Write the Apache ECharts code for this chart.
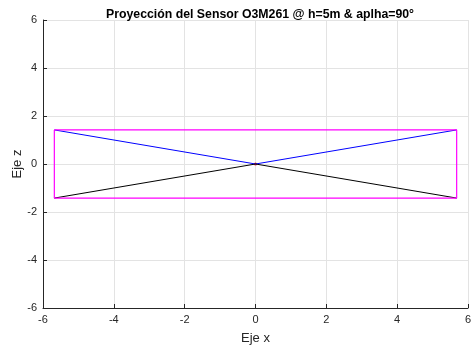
<!DOCTYPE html>
<html>
<head>
<meta charset="utf-8">
<script src="https://cdn.jsdelivr.net/npm/echarts@6/dist/echarts.min.js"></script>
<style>
  html, body { margin: 0; padding: 0; background: #fff; }
  #chart { width: 476px; height: 346px; }
</style>
</head>
<body>
<div id="chart"></div>
<script>
// Projection footprint of the sensor
const rectX  = [-5.68, 5.68, 5.68, -5.68, -5.68]
const rectZ  = [1.42, 1.42, -1.42, -1.42, 1.42]
const upperX = [-5.68, 0, 5.68]
const upperZ = [1.42, 0, 1.42]
const lowerX = [-5.68, 0, 5.68]
const lowerZ = [-1.42, 0, -1.42]
const originX = [0]
const originZ = [0]

const pairs = (xs, zs) => xs.map((x, i) => [x, zs[i]])

const font = 'Liberation Sans, Arial, sans-serif'
const axisDark = '#262626'

const chart = echarts.init(document.getElementById('chart'), null, { renderer: 'canvas' })

const valueAxis = (name, gap, rotate) => ({
  type: 'value',
  min: -6, max: 6, interval: 2,
  name,
  nameLocation: 'middle',
  nameGap: gap,
  nameRotate: rotate,
  nameMoveOverlap: false,
  nameTextStyle: { fontFamily: font, fontSize: 13, color: axisDark },
  axisLine: { show: true, onZero: false, lineStyle: { color: axisDark, width: 1 } },
  axisTick: { show: true, inside: true, length: 4, lineStyle: { color: axisDark } },
  axisLabel: { fontFamily: font, fontSize: 11, color: axisDark, margin: 6 },
  splitLine: { show: true, lineStyle: { color: '#e3e3e3', width: 1 } },
})

chart.setOption({
  animation: false,
  title: {
    text: 'Proyección del Sensor O3M261 @ h=5m & aplha=90°',
    left: 255, top: 4, textAlign: 'center',
    textStyle: { fontFamily: font, fontSize: 12.3, fontWeight: 'bold', color: '#000' },
  },
  grid: { left: 43, right: 8, top: 20, bottom: 38, containLabel: false, outerBoundsMode: 'none' },
  xAxis: valueAxis('Eje x', 24, 0),
  yAxis: valueAxis('Eje z', 19, 90),
  series: [
    {
      type: 'line', data: pairs(upperX, upperZ), symbol: 'none',
      lineStyle: { color: '#0000ff', width: 1 },
    },
    {
      type: 'line', data: pairs(lowerX, lowerZ), symbol: 'none',
      lineStyle: { color: '#000000', width: 1 },
    },
    {
      type: 'line', data: pairs(rectX, rectZ), symbol: 'none',
      lineStyle: { color: '#ff00ff', width: 1.2 },
    },
    {
      type: 'scatter', data: pairs(originX, originZ), symbolSize: 3,
      itemStyle: { color: '#ff0000' },
    },
  ],
})
</script>
</body>
</html>
